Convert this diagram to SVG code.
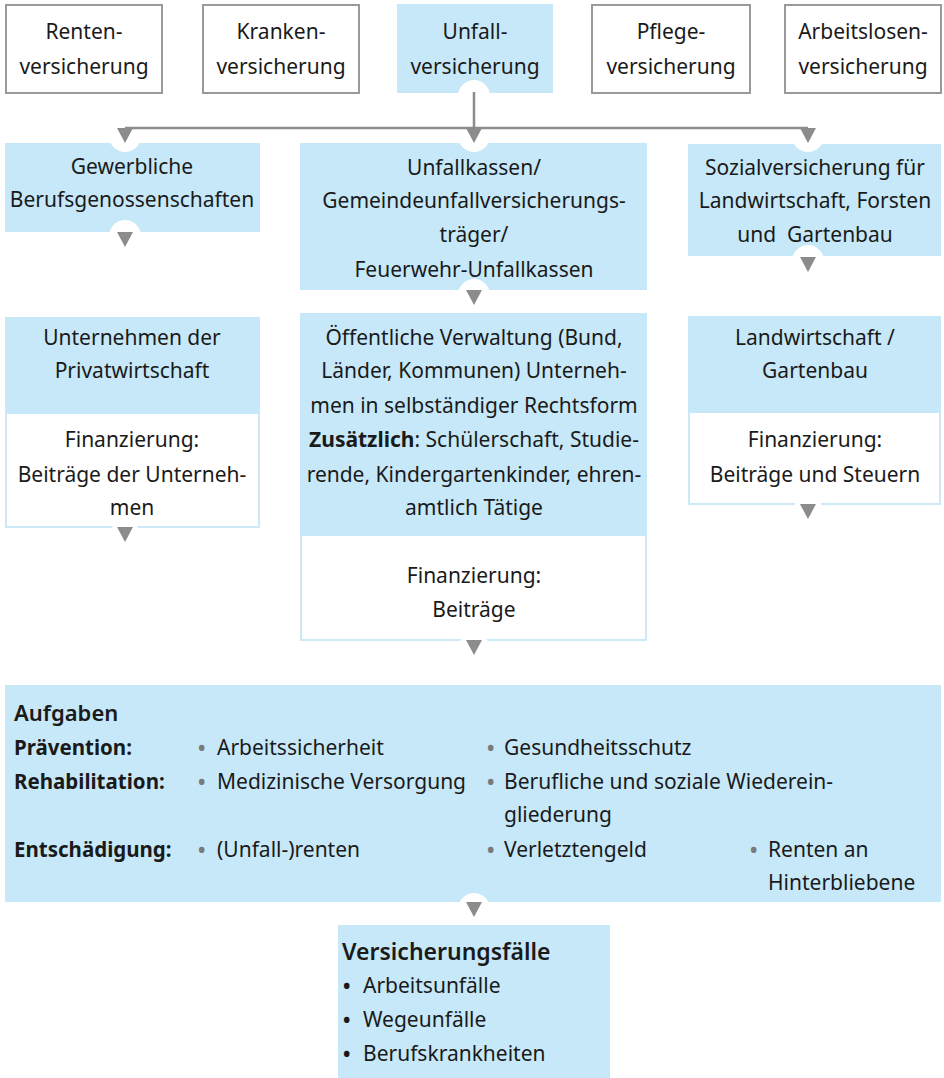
<svg xmlns="http://www.w3.org/2000/svg" width="944" height="1078" viewBox="0 0 944 1078">
<style>
.t{font-family:"Noto Sans","DejaVu Sans",sans-serif;font-size:21px;fill:#1a1a1a;text-anchor:middle}
.l{font-family:"Noto Sans","DejaVu Sans",sans-serif;font-size:21px;fill:#1a1a1a}
.b{font-weight:bold}
.h{font-family:"Noto Sans","DejaVu Sans",sans-serif;font-size:22px;font-weight:600;fill:#1a1a1a}
.h2{font-family:"Noto Sans","DejaVu Sans",sans-serif;font-size:23px;font-weight:600;fill:#1a1a1a}
.lab{font-family:"Noto Sans","DejaVu Sans",sans-serif;font-size:20.5px;font-weight:bold;fill:#1a1a1a}
.dot{font-family:"Noto Sans","DejaVu Sans",sans-serif;font-size:25px;fill:#7a7a7a}
.dotb{font-family:"Noto Sans","DejaVu Sans",sans-serif;font-size:25px;fill:#1a1a1a}
.gbox{fill:#fff;stroke:#9a9a9a;stroke-width:2}
.blue{fill:#c6e8f8}
.wbox{fill:#fff;stroke:#cde9f7;stroke-width:2}
.ln{stroke:#8c8c8c;stroke-width:2.5;fill:none}
.ah{fill:#8c8c8c}
.notch{fill:#fff}
</style>
<defs>
<path id="arr" d="M-8,0 L8,0 L0,15 Z"/>
</defs>

<g id="renten">
<rect class="gbox" x="6" y="5" width="156" height="88"/>
<text class="t" x="84" y="39">Renten-</text>
<text class="t" x="84" y="74">versicherung</text>
</g>
<g id="kranken">
<rect class="gbox" x="203" y="5" width="156" height="88"/>
<text class="t" x="281" y="39">Kranken-</text>
<text class="t" x="281" y="74">versicherung</text>
</g>
<g id="unfall">
<rect class="blue" x="397" y="4" width="156" height="89"/>
<text class="t" x="475" y="39">Unfall-</text>
<text class="t" x="475" y="74">versicherung</text>
</g>
<g id="pflege">
<rect class="gbox" x="592" y="5" width="158" height="88"/>
<text class="t" x="671" y="39">Pflege-</text>
<text class="t" x="671" y="74">versicherung</text>
</g>
<g id="arbeitslosen">
<rect class="gbox" x="785" y="5" width="156" height="88"/>
<text class="t" x="863" y="39">Arbeitslosen-</text>
<text class="t" x="863" y="74">versicherung</text>
</g>

<g id="gewerbliche">
<rect class="blue" x="5" y="143" width="255" height="89"/>
<text class="t" x="132" y="174">Gewerbliche</text>
<text class="t" x="132" y="207">Berufsgenossenschaften</text>
</g>
<g id="unfallkassen">
<rect class="blue" x="300" y="143" width="347" height="147"/>
<text class="t" x="474" y="175">Unfallkassen/</text>
<text class="t" x="474" y="208">Gemeindeunfallversicherungs-</text>
<text class="t" x="474" y="242">träger/</text>
<text class="t" x="474" y="277">Feuerwehr-Unfallkassen</text>
</g>
<g id="sozial">
<rect class="blue" x="688" y="144" width="253" height="112"/>
<text class="t" x="815" y="175">Sozialversicherung für</text>
<text class="t" x="815" y="208">Landwirtschaft, Forsten</text>
<text class="t" x="815" y="242" xml:space="preserve">und  Gartenbau</text>
</g>

<g id="unternehmen">
<rect class="wbox" x="6" y="318" width="253" height="209"/>
<rect class="blue" x="5" y="317" width="255" height="97"/>
<text class="t" x="132" y="345">Unternehmen der</text>
<text class="t" x="132" y="378">Privatwirtschaft</text>
<text class="t" x="132" y="447">Finanzierung:</text>
<text class="t" x="132" y="482">Beiträge der Unterneh-</text>
<text class="t" x="132" y="515">men</text>
</g>
<g id="verwaltung">
<rect class="wbox" x="301" y="314" width="345" height="326"/>
<rect class="blue" x="300" y="313" width="347" height="223"/>
<text class="t" x="474" y="345">Öffentliche Verwaltung (Bund,</text>
<text class="t" x="474" y="378">Länder, Kommunen) Unterneh-</text>
<text class="t" x="474" y="413">men in selbständiger Rechtsform</text>
<text class="t" x="474" y="447"><tspan class="b">Zusätzlich</tspan>: Schülerschaft, Studie-</text>
<text class="t" x="474" y="482">rende, Kindergartenkinder, ehren-</text>
<text class="t" x="474" y="515">amtlich Tätige</text>
<text class="t" x="474" y="583">Finanzierung:</text>
<text class="t" x="474" y="617">Beiträge</text>
</g>
<g id="landwirtschaft">
<rect class="wbox" x="689" y="317" width="251" height="187"/>
<rect class="blue" x="688" y="316" width="253" height="97"/>
<text class="t" x="815" y="345">Landwirtschaft /</text>
<text class="t" x="815" y="378">Gartenbau</text>
<text class="t" x="815" y="447">Finanzierung:</text>
<text class="t" x="815" y="482">Beiträge und Steuern</text>
</g>

<g id="aufgaben">
<rect class="blue" x="5" y="685" width="936" height="217"/>
<text class="h" x="14" y="721">Aufgaben</text>
<text class="lab" x="14" y="755">Prävention:</text>
<text class="lab" x="14" y="789">Rehabilitation:</text>
<text class="lab" x="14" y="857">Entschädigung:</text>
<text class="dot" x="197" y="757">•</text>
<text class="l" x="217" y="755">Arbeitssicherheit</text>
<text class="dot" x="486" y="757">•</text>
<text class="l" x="504" y="755">Gesundheitsschutz</text>
<text class="dot" x="197" y="791">•</text>
<text class="l" x="217" y="789">Medizinische Versorgung</text>
<text class="dot" x="486" y="791">•</text>
<text class="l" x="504" y="789">Berufliche und soziale Wiederein-</text>
<text class="l" x="504" y="822">gliederung</text>
<text class="dot" x="197" y="859">•</text>
<text class="l" x="217" y="857">(Unfall-)renten</text>
<text class="dot" x="486" y="859">•</text>
<text class="l" x="504" y="857">Verletztengeld</text>
<text class="dot" x="749" y="859">•</text>
<text class="l" x="768" y="857">Renten an</text>
<text class="l" x="768" y="890">Hinterbliebene</text>
</g>

<g id="versicherungsfaelle">
<rect class="blue" x="338" y="925" width="272" height="153"/>
<text class="h2" x="342" y="960">Versicherungsfälle</text>
<text class="dotb" x="342" y="995">•</text>
<text class="l" x="363" y="993">Arbeitsunfälle</text>
<text class="dotb" x="342" y="1029">•</text>
<text class="l" x="363" y="1027">Wegeunfälle</text>
<text class="dotb" x="342" y="1063">•</text>
<text class="l" x="363" y="1061">Berufskrankheiten</text>
</g>

<g id="connectors">
<circle class="notch" cx="474" cy="96" r="16"/>
<circle class="notch" cx="125" cy="136" r="16"/>
<circle class="notch" cx="474" cy="136" r="16"/>
<circle class="notch" cx="808" cy="136" r="16"/>
<path class="ln" d="M474,92 V128 M125,128 H808"/>
<use href="#arr" class="ah" x="125" y="128"/>
<use href="#arr" class="ah" x="474" y="128"/>
<use href="#arr" class="ah" x="808" y="128"/>

<circle class="notch" cx="125" cy="236" r="16"/>
<use href="#arr" class="ah" x="125" y="232"/>
<circle class="notch" cx="474" cy="295" r="16"/>
<use href="#arr" class="ah" x="474" y="290"/>
<circle class="notch" cx="808" cy="261" r="16"/>
<use href="#arr" class="ah" x="808" y="257"/>

<circle class="notch" cx="125" cy="535" r="15"/>
<use href="#arr" class="ah" x="125" y="527"/>
<circle class="notch" cx="474" cy="647" r="15"/>
<use href="#arr" class="ah" x="474" y="640"/>
<circle class="notch" cx="808" cy="511" r="15"/>
<use href="#arr" class="ah" x="808" y="504"/>

<circle class="notch" cx="474" cy="909" r="16"/>
<use href="#arr" class="ah" x="474" y="902"/>
</g>
</svg>
